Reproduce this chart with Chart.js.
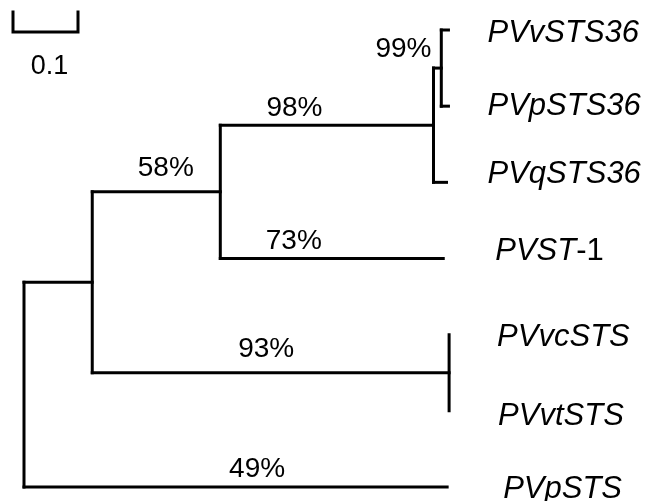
<!DOCTYPE html>
<html>
<head>
<meta charset="utf-8">
<script src="https://cdn.jsdelivr.net/npm/chart.js@4.4.1/dist/chart.umd.min.js"></script>
<style>
  html, body { margin: 0; padding: 0; background: #fff; }
  #wrap { width: 647px; height: 501px; position: relative; }
</style>
</head>
<body>
<div id="wrap"><canvas id="tree"></canvas></div>
<script>
// tree: node names, parent index, branch length (subst./site), bootstrap support
const nodeNames  = ['root','inner','sts','sts36','vp36','PVvSTS36','PVpSTS36','PVqSTS36','PVST-1','vcvt','PVvcSTS','PVvtSTS','PVpSTS'];
const nodeParent = [-1, 0, 1, 2, 3, 4, 4, 3, 2, 1, 9, 9, 0];
const branchLen  = [0, 0.105, 0.197, 0.328, 0.012, 0.011, 0.011, 0.020, 0.343, 0.549, 0, 0, 0.651];
const support    = [null, null, 58, 98, 99, null, null, null, 73, 93, null, null, 49];
const scaleBarLen = 0.1;
const scaleBarLabel = '0.1';

// label placement tweaks (pixels)
const supportDx = {2: 9.5, 3: -32.5, 4: -34, 8: -38, 9: -4.5, 12: 21.5};
const supportDy = {2: -16, 3: -9, 4: -11.5, 8: -10, 9: -15.5, 12: -10};
const leafDx = {5: 39, 6: 39, 7: 41, 8: 52, 10: 48, 11: 49, 12: 56};
const leafDy = {5: 12, 6: 9, 7: 1, 8: 1, 10: 11, 11: 14, 12: 11};

// layout: depth and vertical order
const children = nodeNames.map(() => []);
nodeParent.forEach((p, i) => { if (p >= 0) children[p].push(i); });
const depth = [], ypos = [];
let leafCount = 0;
function layout(i, d) {
  depth[i] = d;
  if (!children[i].length) { ypos[i] = leafCount++; return; }
  children[i].forEach(c => layout(c, d + branchLen[c]));
  const ys = children[i].map(c => ypos[c]);
  ypos[i] = (Math.min(...ys) + Math.max(...ys)) / 2;
}
layout(0, 0);

const line = { showLine: true, pointRadius: 0, borderColor: '#000', borderWidth: 3, borderCapStyle: 'square', fill: false, tension: 0 };
const datasets = [];
nodeNames.forEach((n, i) => {
  const p = nodeParent[i];
  if (p >= 0 && branchLen[i] > 0) {
    datasets.push({ ...line, data: [{ x: depth[p], y: ypos[i] }, { x: depth[i], y: ypos[i] }] });
  }
  if (children[i].length) {
    const ys = children[i].map(c => ypos[c]);
    datasets.push({ ...line, data: [{ x: depth[i], y: Math.min(...ys) }, { x: depth[i], y: Math.max(...ys) }] });
  }
});

const labels = {
  id: 'treeLabels',
  afterDatasetsDraw(chart) {
    const ctx = chart.ctx, xs = chart.scales.x, ys = chart.scales.y;
    ctx.save();
    ctx.fillStyle = '#000';
    ctx.textBaseline = 'alphabetic';
    // bootstrap values
    ctx.font = '28px "Liberation Sans", Arial, sans-serif';
    ctx.textAlign = 'center';
    support.forEach((s, i) => {
      if (s == null) return;
      const p = nodeParent[i];
      const mx = (xs.getPixelForValue(depth[p]) + xs.getPixelForValue(depth[i])) / 2;
      const my = ys.getPixelForValue(ypos[i]);
      ctx.fillText(s + '%', mx + supportDx[i], my + supportDy[i]);
    });
    // leaf names
    ctx.textAlign = 'left';
    nodeNames.forEach((n, i) => {
      if (children[i].length) return;
      const x = xs.getPixelForValue(depth[i]) + leafDx[i];
      const y = ys.getPixelForValue(ypos[i]) + leafDy[i];
      const parts = n.split('-');
      ctx.font = 'italic 31px "Liberation Sans", Arial, sans-serif';
      ctx.fillText(parts[0], x, y);
      if (parts.length > 1) {
        const w = ctx.measureText(parts[0]).width;
        ctx.font = '31px "Liberation Sans", Arial, sans-serif';
        ctx.fillText('-' + parts.slice(1).join('-'), x + w, y);
      }
    });
    // scale bar
    const bx = 13, by = 32;
    const bw = xs.getPixelForValue(scaleBarLen) - xs.getPixelForValue(0);
    ctx.strokeStyle = '#000';
    ctx.lineWidth = 3;
    ctx.lineCap = 'square';
    ctx.beginPath();
    ctx.moveTo(bx, by - 20); ctx.lineTo(bx, by); ctx.lineTo(bx + bw, by); ctx.lineTo(bx + bw, by - 20);
    ctx.stroke();
    ctx.font = '27px "Liberation Sans", Arial, sans-serif';
    ctx.textAlign = 'center';
    ctx.fillText(scaleBarLabel, bx + bw / 2 + 4, by + 42);
    ctx.restore();
  }
};

new Chart(document.getElementById('tree'), {
  type: 'scatter',
  data: { datasets },
  options: {
    responsive: true,
    maintainAspectRatio: false,
    animation: false,
    layout: { padding: 0 },
    plugins: { legend: { display: false }, tooltip: { enabled: false } },
    scales: {
      x: { type: 'linear', display: false, min: -24 / 650, max: (647 - 24) / 650 },
      y: { type: 'linear', display: false, reverse: true, min: -30 / 76.17, max: (501 - 30) / 76.17 }
    }
  },
  plugins: [labels]
});
</script>
</body>
</html>
